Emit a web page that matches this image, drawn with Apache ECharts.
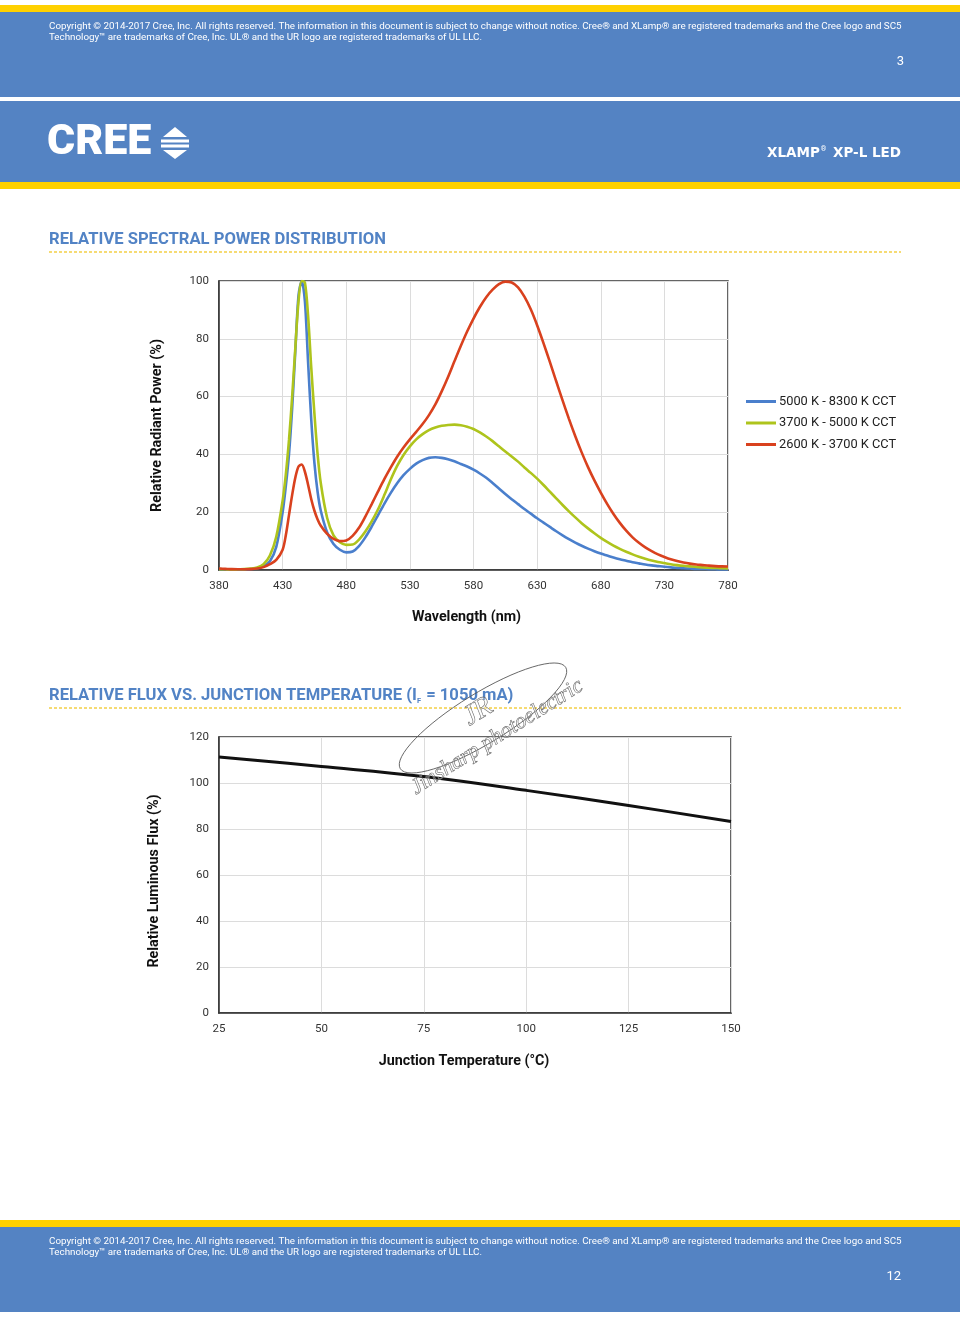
<!DOCTYPE html>
<html><head><meta charset="utf-8">
<script src="https://cdn.jsdelivr.net/npm/echarts@6/dist/echarts.min.js"></script>
<style>html,body{margin:0;padding:0;background:#fff}#c{width:960px;height:1344px}</style>
</head><body><div id="c"></div><script>
// ---- data ----
const wavelengths = [380,385,390,395,400,405,410,415,420,425,
  430,432.5,435,437.5,440,442.5,445,447.5,450,452.5,455,457.5,460,
  465,470,475,480,485,490,495,500,505,510,515,520,525,530,535,540,545,550,555,560,565,570,575,580,585,590,595,600,
  605,610,615,620,625,630,635,640,645,650,655,660,665,670,675,680,685,690,695,700,705,710,715,720,725,730,735,740,745,750,755,760,765,770,775,780];
const cool = [0.3,0.25,0.2,0.2,0.25,0.35,0.6,1.3,3,8,
  20,29,40,56,76,95,100,93,72,52,37,27,20.5,
  13,9,7,6.1,6.4,8.3,11.3,15,19,23,26.7,30,32.8,35,36.8,38,38.8,39,38.8,38.3,37.6,36.7,35.8,34.7,33.4,31.9,30.1,28.2,
  26.3,24.5,22.8,21.1,19.5,17.9,16.4,14.9,13.4,12,10.7,9.5,8.4,7.4,6.5,5.7,5,4.3,3.7,3.2,2.7,2.3,1.9,1.6,1.35,1.1,0.9,0.75,0.6,0.5,0.4,0.35,0.3,0.25,0.2,0.2];
const neutral = [0.3,0.25,0.2,0.25,0.3,0.5,0.9,2,5,11.5,
  24,33,45,60,77,93,100,99.5,88,70,54,40,30,
  18,12,9.6,8.7,8.8,10.5,13.3,16.8,21,26,31.3,36,39.8,42.8,45.2,47,48.4,49.3,49.9,50.2,50.3,50.1,49.6,48.8,47.6,46.2,44.6,42.8,
  41,39.3,37.5,35.5,33.6,31.6,29.4,27.1,24.8,22.5,20.3,18.2,16.2,14.4,12.7,11.1,9.7,8.4,7.3,6.3,5.4,4.6,3.9,3.3,2.8,2.4,2,1.7,1.45,1.25,1.05,0.9,0.8,0.7,0.6,0.55];
const warm = [0.5,0.4,0.3,0.25,0.25,0.3,0.5,1,2,3.5,
  7,12,19,26,32,35.8,36.5,34,29.5,24.5,20.5,17.5,15.3,
  12.5,10.8,10,10.2,11.8,14.6,18.5,22.8,27.2,31.5,35.5,39.2,42.4,45.2,47.8,50.5,53.6,57.3,61.8,66.8,72.2,77.5,82.5,87,91,94.4,97,98.9,
  99.8,99.5,97.8,94.6,90.2,84.7,78.5,72,65.3,58.7,52.3,46.3,40.7,35.6,31,26.8,22.9,19.4,16.3,13.6,11.3,9.4,7.8,6.5,5.4,4.5,3.7,3.1,2.6,2.2,1.9,1.7,1.5,1.35,1.25,1.2];
const spectrumNames = ['5000 K - 8300 K CCT','3700 K - 5000 K CCT','2600 K - 3700 K CCT'];
const spectrumColors = ['#4a7fcc','#aec41c','#d9411e'];
const wlTickLabels = [380,430,480,530,580,630,680,730,780];
const tempC   = [25,50,75,100,125,150];
const relFlux = [111.3,107.2,102.8,96.8,90.2,83.3];

const WL0 = wlTickLabels[0];
const chart = echarts.init(document.getElementById('c'), null, {renderer:'canvas'});
const BLUE = '#5483c3', YEL = '#ffd100', TITLE = '#5283c5';
const copy1 = 'Copyright \u00a9 2014-2017 Cree, Inc. All rights reserved. The information in this document is subject to change without notice. Cree\u00ae and XLamp\u00ae are registered trademarks and the Cree logo and SC5';
const copy2 = 'Technology\u2122 are trademarks of Cree, Inc. UL\u00ae and the UR logo are registered trademarks of UL LLC.';

function txt(x,y,text,size,fill,weight,align,extra){
  return {type:'text', x:x, y:y, z:100, style:Object.assign({text:text, fill:fill, fontSize:size, fontFamily:'Roboto', fontWeight:weight||'normal', align:align||'left', verticalAlign:'middle'}, extra||{})};
}
const graphics = [
  {type:'rect', shape:{x:0,y:5,width:960,height:7}, style:{fill:YEL}},
  {type:'rect', shape:{x:0,y:12,width:960,height:85}, style:{fill:BLUE}},
  {type:'rect', shape:{x:0,y:101,width:960,height:81}, style:{fill:BLUE}},
  {type:'rect', shape:{x:0,y:182,width:960,height:7}, style:{fill:YEL}},
  {type:'rect', shape:{x:0,y:1220,width:960,height:7}, style:{fill:YEL}},
  {type:'rect', shape:{x:0,y:1227,width:960,height:85}, style:{fill:BLUE}},
  txt(49,27,copy1,9.8,'#fff'), txt(49,38,copy2,9.8,'#fff'),
  txt(904,62,'3',13,'#fff','normal','right'),
  txt(49,1242,copy1,9.8,'#fff'), txt(49,1253,copy2,9.8,'#fff'),
  txt(901,1277,'12',13,'#fff','normal','right'),
  txt(47,143,'CREE',43,'#fff','900','left'),
  {type:'polygon', shape:{points:[[175,127],[163,137],[187,137]]}, style:{fill:'#fff'}},
  {type:'rect', shape:{x:161,y:139.5,width:28,height:3}, style:{fill:'#fff'}},
  {type:'rect', shape:{x:161,y:144.5,width:28,height:3}, style:{fill:'#fff'}},
  {type:'polygon', shape:{points:[[163,150],[187,150],[175,159]]}, style:{fill:'#fff'}},
  {type:'text', x:901, y:153, style:{text:'{a|XLAMP}{s|\u00ae}{a| XP-L LED}', align:'right', verticalAlign:'middle', rich:{a:{fontSize:13.5,fontWeight:'bold',fontFamily:'DejaVu Sans',fill:'#fff',color:'#fff'}, s:{fontSize:7,fontFamily:'Roboto',fill:'#fff',color:'#fff',verticalAlign:'top',padding:[0,2,8,1]}}}},
  txt(49,240,'RELATIVE SPECTRAL POWER DISTRIBUTION',16.6,TITLE,'bold'),
  {type:'line', shape:{x1:49,y1:252,x2:901,y2:252}, style:{stroke:'#f3cf45',lineWidth:1.5,lineDash:[3,2]}},
  {type:'text', x:49, y:696, style:{text:'{a|RELATIVE FLUX VS. JUNCTION TEMPERATURE (I}{s|F}{a| = 1050 mA)}', verticalAlign:'middle', rich:{a:{fontSize:16.6,fontWeight:'bold',fontFamily:'Roboto',fill:TITLE,color:TITLE}, s:{fontSize:7.5,fontWeight:'bold',fontFamily:'Roboto',fill:TITLE,color:TITLE,padding:[11,1,0,0]}}}},
  {type:'line', shape:{x1:49,y1:708,x2:901,y2:708}, style:{stroke:'#f3cf45',lineWidth:1.5,lineDash:[3,2]}},
  // watermark
  {type:'ellipse', x:483, y:718, rotation:0.55, z:200, shape:{cx:0,cy:0,rx:97,ry:25}, style:{fill:'none',stroke:'#555',lineWidth:0.8}},
  {type:'text', x:497, y:737, rotation:0.56, z:200, style:{text:'Jinsharp photoelectric', fontSize:22, fontFamily:'Liberation Serif', fontStyle:'italic', fill:'rgba(255,255,255,0.3)', stroke:'#555', lineWidth:0.6, align:'center', verticalAlign:'middle'}},
  {type:'text', x:478, y:712, rotation:0.55, z:200, style:{text:'JR', fontSize:28, fontFamily:'Liberation Serif', fontStyle:'italic', fill:'rgba(255,255,255,0.3)', stroke:'#555', lineWidth:0.6, align:'center', verticalAlign:'middle'}}
];

const axisCommon = {
  axisLine:{show:true, lineStyle:{color:'#333', width:1.5}},
  axisTick:{show:false},
  splitLine:{show:true, lineStyle:{color:'#dcdcdc', width:1}},
  axisLabel:{fontSize:11.5, color:'#333', fontFamily:'Roboto', margin:10}
};
const nameStyle = {fontSize:14.3, fontWeight:'bold', color:'#111', fontFamily:'Roboto'};

const option = {
  animation:false,
  backgroundColor:'#fff',
  color: spectrumColors,
  graphic: graphics,
  legend:{
    left:746, top:395, padding:0, orient:'vertical', icon:'rect', itemWidth:30, itemHeight:3, itemGap:8.5,
    textStyle:{fontSize:12.8, color:'#222', fontFamily:'Roboto', padding:[0,0,0,-2]},
    data: spectrumNames
  },
  grid:[
    {left:219, top:281, width:509, height:289, show:true, borderColor:'#333', borderWidth:1.5, outerBoundsMode:'none'},
    {left:219, top:737, width:512, height:276, show:true, borderColor:'#333', borderWidth:1.5, outerBoundsMode:'none'}
  ],
  xAxis:[
    Object.assign({}, axisCommon, {gridIndex:0, type:'value', min:0, max:wlTickLabels[wlTickLabels.length-1]-WL0, interval:50,
      name:'Wavelength (nm)', nameLocation:'middle', nameGap:40,
      nameTextStyle:Object.assign({}, nameStyle, {padding:[0,14,0,0]}),
      axisLabel:Object.assign({}, axisCommon.axisLabel, {formatter:v => String(v + WL0)})}),
    Object.assign({}, axisCommon, {gridIndex:1, type:'value', min:25, max:150, interval:25,
      name:'Junction Temperature (\u00b0C)', nameLocation:'middle', nameGap:41,
      nameTextStyle:Object.assign({}, nameStyle, {padding:[0,22,0,0]})})
  ],
  yAxis:[
    Object.assign({}, axisCommon, {gridIndex:0, type:'value', min:0, max:100, interval:20,
      name:'Relative Radiant Power (%)', nameLocation:'middle', nameGap:55, nameTextStyle:nameStyle}),
    Object.assign({}, axisCommon, {gridIndex:1, type:'value', min:0, max:120, interval:20,
      name:'Relative Luminous Flux (%)', nameLocation:'middle', nameGap:58,
      nameTextStyle:Object.assign({}, nameStyle, {padding:[0,12,0,0]})})
  ],
  series:[
    ...[cool, neutral, warm].map((arr, k) => ({
      name: spectrumNames[k], type:'line', xAxisIndex:0, yAxisIndex:0, showSymbol:false, smooth:0.3,
      lineStyle:{width:2.6, color:spectrumColors[k]}, itemStyle:{color:spectrumColors[k]},
      z: 3 + k,
      data: wavelengths.map((w,i) => [w - WL0, arr[i]])
    })),
    {name:'flux', type:'line', xAxisIndex:1, yAxisIndex:1, showSymbol:false, smooth:0.4,
      lineStyle:{width:3, color:'#111'}, itemStyle:{color:'#111'},
      data: tempC.map((t,i) => [t, relFlux[i]])}
  ]
};
chart.setOption(option);
</script></body></html>
